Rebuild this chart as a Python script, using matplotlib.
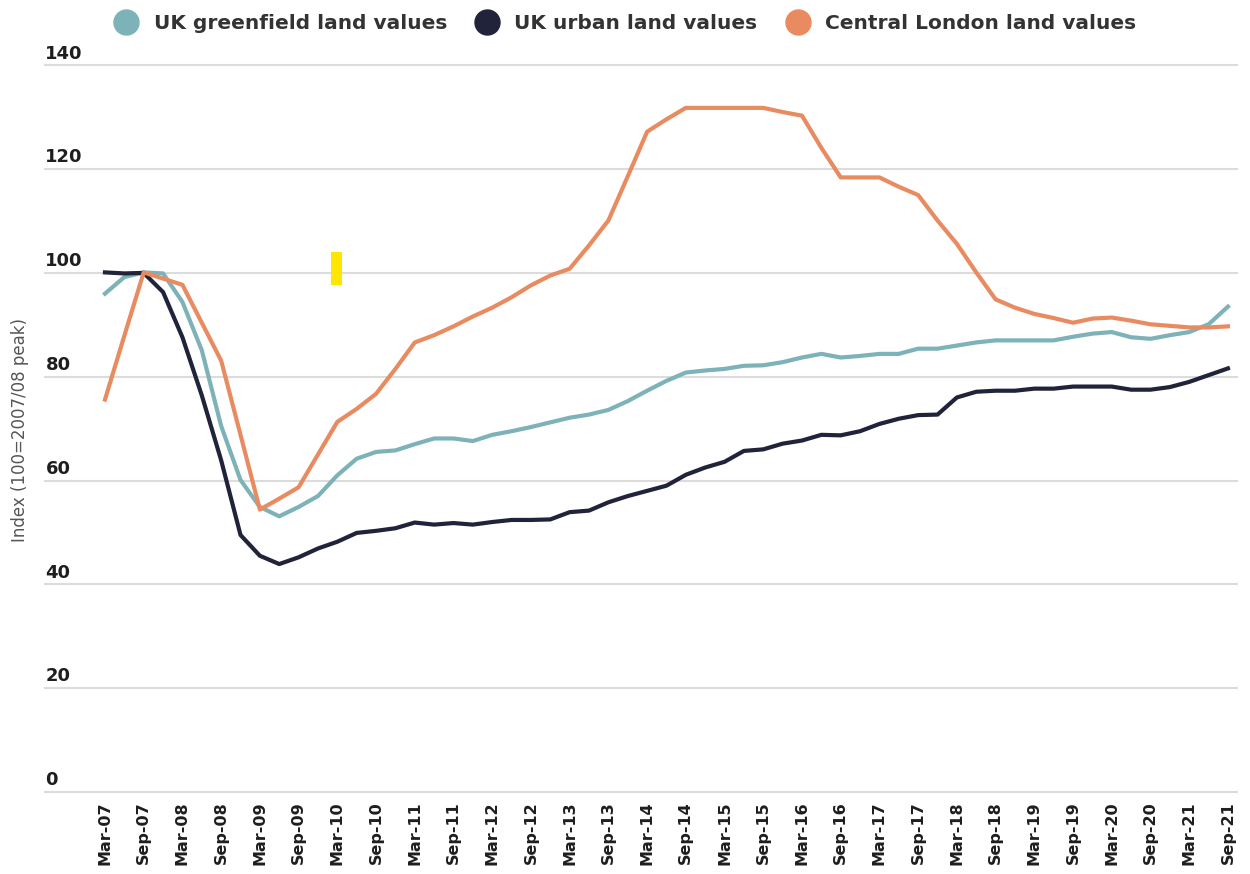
import matplotlib
matplotlib.use("Agg")
import matplotlib.pyplot as plt
from matplotlib.lines import Line2D
from matplotlib.patches import Rectangle

# quarterly index values (100 = 2007/08 peak), Mar-07 .. Sep-21
greenfield = [96.0, 99.2, 100.1, 99.9, 94.4, 85.1, 70.5, 60.1, 54.9, 53.1,
              54.9, 57.0, 61.0, 64.2, 65.5, 65.8, 67.0, 68.1, 68.1, 67.6,
              68.8, 69.5, 70.3, 71.2, 72.1, 72.7, 73.6, 75.3, 77.3, 79.2,
              80.8, 81.2, 81.5, 82.1, 82.2, 82.8, 83.7, 84.4, 83.7, 84.0,
              84.4, 84.4, 85.4, 85.4, 86.0, 86.6, 87.0, 87.0, 87.0, 87.0,
              87.7, 88.3, 88.6, 87.6, 87.3, 88.0, 88.6, 90.1, 93.5]
urban = [100.1, 99.9, 100.0, 96.3, 87.6, 76.4, 63.9, 49.5, 45.5, 43.9,
         45.2, 46.9, 48.2, 49.9, 50.3, 50.8, 51.9, 51.5, 51.8, 51.5,
         52.0, 52.4, 52.4, 52.5, 53.9, 54.2, 55.8, 57.0, 58.0, 59.0,
         61.1, 62.5, 63.6, 65.7, 66.0, 67.1, 67.7, 68.8, 68.7, 69.5,
         70.9, 71.9, 72.6, 72.7, 76.0, 77.1, 77.3, 77.3, 77.7, 77.7,
         78.1, 78.1, 78.1, 77.5, 77.5, 78.0, 79.0, 80.3, 81.6]
london = [75.6, 87.9, 100.1, 98.9, 97.7, 90.4, 83.1, 68.8, 54.4, 56.5,
          58.7, 65.0, 71.3, 73.8, 76.7, 81.5, 86.6, 88.0, 89.7, 91.6,
          93.3, 95.3, 97.6, 99.5, 100.8, 105.3, 110.1, 118.6, 127.2, 129.6,
          131.8, 131.8, 131.8, 131.8, 131.8, 131.0, 130.3, 124.1, 118.4, 118.4,
          118.4, 116.6, 115.0, 110.1, 105.6, 100.1, 94.9, 93.3, 92.1, 91.3,
          90.4, 91.2, 91.4, 90.8, 90.1, 89.8, 89.5, 89.5, 89.7]

tick_labels = []
for yr in range(7, 22):
    tick_labels.append("Mar-%02d" % yr)
    tick_labels.append("Sep-%02d" % yr)

y_ticks = [0, 20, 40, 60, 80, 100, 120, 140]

series = [
    ("UK greenfield land values", greenfield, "#7db3b8"),
    ("UK urban land values", urban, "#20233a"),
    ("Central London land values", london, "#e98b60"),
]

FONT = "DejaVu Sans"
TXT = "#1e1e1e"

fig = plt.figure(figsize=(12.5, 8.74), dpi=100)
ax = fig.add_axes([0.0352, 0.0892, 0.9552, 0.842])

x = list(range(len(greenfield)))
for name, vals, col in series:
    ax.plot(x, vals, color=col, lw=3.0)

# stray highlight mark present in the source image
ax.add_patch(Rectangle((11.67, 97.6), 0.57, 6.4, color="#ffe600", lw=0, zorder=5))

ax.set_xlim(-3.15, 58.52)
ax.set_ylim(-0.8, 141)

ax.set_xticks(range(0, len(greenfield), 2))
ax.set_xticklabels(tick_labels, rotation=90, fontfamily=FONT,
                   fontweight="bold", fontsize=11.5, color=TXT, va="top")
ax.tick_params(axis="x", length=0, pad=4)

ax.set_yticks(y_ticks)
ax.set_yticklabels([])
ax.tick_params(axis="y", length=0)
ax.yaxis.grid(True, color="#dcdcdc", lw=1.5)
ax.set_axisbelow(True)
for v in y_ticks:
    ax.annotate(str(v), xy=(0, v), xycoords=("axes fraction", "data"),
                xytext=(1, 2), textcoords="offset points",
                ha="left", va="bottom", fontfamily=FONT, fontweight="bold",
                fontsize=13, color=TXT)

for s in ax.spines.values():
    s.set_visible(False)

fig.text(0.016, 0.508, "Index (100=2007/08 peak)", rotation=90, ha="center",
         va="center", fontfamily=FONT, fontsize=12, color="#555555")

handles = [Line2D([], [], marker="o", ls="", color=c, markersize=18)
           for _, _, c in series]
fig.legend(handles, [n for n, _, _ in series], loc="upper center",
           bbox_to_anchor=(0.497, 1.0), ncol=3, frameon=False,
           handletextpad=0.35, columnspacing=1.0, borderaxespad=0.3,
           prop={"family": FONT, "weight": "bold", "size": 14.5},
           labelcolor="#333333")

fig.savefig("out.png", dpi=100)
